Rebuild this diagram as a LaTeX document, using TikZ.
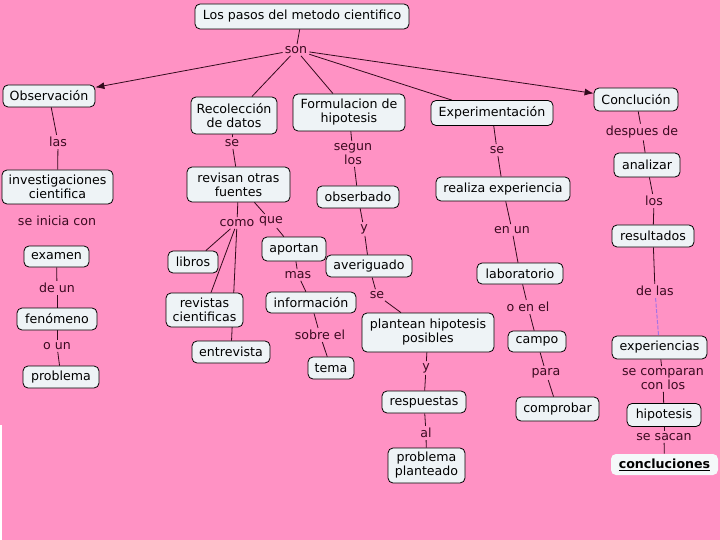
\documentclass[tikz,border=0pt]{standalone}
\usepackage{fontspec}
\setmainfont{DejaVu Sans}
\usetikzlibrary{arrows.meta,backgrounds}
\definecolor{bgpink}{RGB}{255,146,196}
\definecolor{boxfill}{RGB}{238,243,246}
\definecolor{linkc}{RGB}{58,10,32}
\definecolor{linec}{RGB}{50,10,28}
\definecolor{lavender}{RGB}{165,115,230}
\begin{document}
\begin{tikzpicture}[x=1pt,y=-1pt,
 every node/.style={font=\fontsize{12.6}{14}\selectfont},
 concept/.style={draw=black, line width=0.8pt, fill=boxfill, rounded corners=5pt, align=center, inner sep=1pt},
 linkword/.style={text=linkc, align=center, inner sep=2pt},
 conn/.style={draw=linec, line width=0.8pt},
 arr/.style={conn, -{Latex[length=9pt,width=7pt]}}]
\useasboundingbox (0,0) rectangle (720,540);
\begin{scope}[on background layer]
\fill[bgpink] (0,0) rectangle (720,540);
\draw[white, line width=1.5pt] (0.75,425) -- (0.75,540);
\end{scope}

\node[concept,minimum width=214pt,minimum height=25pt] (title) at (302,16.5) {Los pasos del metodo cientifico};
\node[linkword] (son) at (296,50) {son};
\node[concept,minimum width=92pt,minimum height=22pt] (obs) at (49,96) {Observación};
\node[concept,minimum width=86pt,minimum height=37pt] (rec) at (234,115.5) {Recolección\\de datos};
\node[concept,minimum width=112pt,minimum height=37pt] (form) at (349,112.5) {Formulacion de\\hipotesis};
\node[concept,minimum width=122pt,minimum height=25pt] (exp) at (492,113) {Experimentación};
\node[concept,minimum width=84pt,minimum height=23pt] (concl) at (636,99.5) {Conclución};
\node[linkword] (las) at (58,142) {las};
\node[concept,minimum width=111pt,minimum height=34pt] (inv) at (57.5,187) {investigaciones\\cientifica};
\node[linkword] (inicia) at (57,221) {se inicia con};
\node[concept,minimum width=65pt,minimum height=21pt] (exam) at (56.5,256.5) {examen};
\node[linkword] (deun) at (57,288) {de un};
\node[concept,minimum width=80pt,minimum height=22pt] (fen) at (57,319) {fenómeno};
\node[linkword] (oun) at (57,346) {o un};
\node[concept,minimum width=76pt,minimum height=22pt] (prob) at (61,377) {problema};
\node[linkword] (se1) at (232,143) {se};
\node[concept,minimum width=103pt,minimum height=35pt] (rev) at (238.5,184.5) {revisan otras\\fuentes};
\node[linkword] (como) at (237,223) {como};
\node[linkword] (que) at (271,221) {que};
\node[concept,minimum width=50pt,minimum height=22pt] (lib) at (193,262) {libros};
\node[concept,minimum width=77pt,minimum height=34pt] (revis) at (204.5,310) {revistas\\cientificas};
\node[concept,minimum width=78pt,minimum height=22pt] (entr) at (231,352) {entrevista};
\node[concept,minimum width=64pt,minimum height=24pt] (aport) at (294,249) {aportan};
\node[linkword] (mas) at (298,275) {mas};
\node[concept,minimum width=90pt,minimum height=21pt] (info) at (311,302.5) {información};
\node[linkword] (sobre) at (320,335) {sobre el};
\node[concept,minimum width=46pt,minimum height=22pt] (tema) at (331,368) {tema};
\node[linkword] (segun) at (353,154) {segun\\los};
\node[concept,minimum width=82pt,minimum height=22pt] (obsb) at (358,197) {obserbado};
\node[linkword] (y1) at (364,229) {y};
\node[concept,minimum width=86pt,minimum height=22pt] (aver) at (369,266) {averiguado};
\node[linkword] (se2) at (377,295) {se};
\node[concept,minimum width=132pt,minimum height=39pt] (plant) at (428,332.5) {plantean hipotesis\\posibles};
\node[linkword] (y2) at (426,368) {y};
\node[concept,minimum width=84pt,minimum height=22pt] (resp) at (424,402) {respuestas};
\node[linkword] (al) at (426,433) {al};
\node[concept,minimum width=77pt,minimum height=35pt] (probp) at (426.5,465.5) {problema\\planteado};
\node[linkword] (se3) at (497,150) {se};
\node[concept,minimum width=134pt,minimum height=24pt] (real) at (503,189) {realiza experiencia};
\node[linkword] (enun) at (512,230) {en un};
\node[concept,minimum width=86pt,minimum height=21pt] (lab) at (520,273.5) {laboratorio};
\node[linkword] (oenel) at (528,307) {o en el};
\node[concept,minimum width=58pt,minimum height=21pt] (campo) at (537,341.5) {campo};
\node[linkword] (para) at (546,373) {para};
\node[concept,minimum width=83pt,minimum height=24pt] (compr) at (557.5,409) {comprobar};
\node[linkword] (despues) at (642,132) {despues de};
\node[concept,minimum width=66pt,minimum height=24pt] (anal) at (647,165) {analizar};
\node[linkword] (los) at (654,201) {los};
\node[concept,minimum width=82pt,minimum height=22pt] (res) at (653,236) {resultados};
\node[linkword] (delas) at (655,291) {de las};
\node[concept,minimum width=95pt,minimum height=23pt] (expc) at (659.5,347.5) {experiencias};
\node[linkword] (compar) at (663,379) {se comparan\\con los};
\node[concept,minimum width=74pt,minimum height=23pt] (hip) at (664,415) {hipotesis};
\node[linkword] (sacan) at (664,437) {se sacan};
\node[concept,draw=none,fill=boxfill!60!white,minimum width=107pt,minimum height=21pt] (concs) at (664.5,464.5) {\underline{\textbf{concluciones}}};

\begin{scope}[on background layer]
\draw[conn] (title) -- (son);
\draw[arr] (son) -- (obs);
\draw[conn] (son) -- (rec);
\draw[conn] (son) -- (form);
\draw[conn] (son) -- (exp);
\draw[arr] (son) -- (concl);
\draw[conn] (obs) -- (las);
\draw[conn] (las) -- (inv);
\draw[conn] (exam) -- (deun);
\draw[conn] (deun) -- (fen);
\draw[conn] (fen) -- (oun);
\draw[conn] (oun) -- (prob);
\draw[conn] (rec) -- (se1);
\draw[conn] (se1) -- (rev);
\draw[conn] (rev) -- (como);
\draw[conn] (rev) -- (que);
\draw[conn] (como) -- (lib);
\draw[conn] (como) -- (revis);
\draw[conn] (como) -- (entr);
\draw[conn] (que) -- (aport);
\draw[conn] (aport) -- (mas);
\draw[conn] (mas) -- (info);
\draw[conn] (info) -- (sobre);
\draw[conn] (sobre) -- (tema);
\draw[conn] (form) -- (segun);
\draw[conn] (segun) -- (obsb);
\draw[conn] (obsb) -- (y1);
\draw[conn] (y1) -- (aver);
\draw[conn] (aver) -- (se2);
\draw[conn] (se2) -- (plant);
\draw[conn] (plant) -- (y2);
\draw[conn] (y2) -- (resp);
\draw[conn] (resp) -- (al);
\draw[conn] (al) -- (probp);
\draw[conn] (exp) -- (se3);
\draw[conn] (se3) -- (real);
\draw[conn] (real) -- (enun);
\draw[conn] (enun) -- (lab);
\draw[conn] (lab) -- (oenel);
\draw[conn] (oenel) -- (campo);
\draw[conn] (campo) -- (para);
\draw[conn] (para) -- (compr);
\draw[conn] (concl) -- (despues);
\draw[conn] (despues) -- (anal);
\draw[conn] (anal) -- (los);
\draw[conn] (los) -- (res);
\draw[conn] (res) -- (delas);
\draw[draw=lavender, line width=1pt, dash pattern=on 4pt off 1.5pt] (delas) -- (expc);
\draw[conn] (expc) -- (compar);
\draw[conn] (compar) -- (hip);
\draw[conn] (hip) -- (sacan);
\draw[conn] (sacan) -- (concs);
\end{scope}
\end{tikzpicture}
\end{document}
